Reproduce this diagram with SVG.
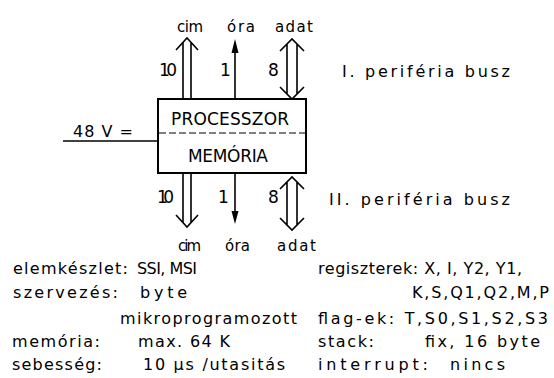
<svg xmlns="http://www.w3.org/2000/svg" width="554" height="378" viewBox="0 0 554 378">
<style>
text{font-family:"DejaVu Sans","Liberation Sans",sans-serif;fill:#000;font-size:16px}
.lbl{font-size:15px}
.num{font-size:17px}
.big{font-size:17px}
.ln{stroke:#000;stroke-width:1.6;fill:none}
.box{stroke:#000;stroke-width:2;fill:#fff}
.dash{stroke:#000;stroke-width:1;stroke-dasharray:7 3;fill:none}
</style>
<rect width="554" height="378" fill="#fff"/>
<g id="connectors">
<line class="ln" x1="63" y1="141" x2="158" y2="141"/>
<!-- top cim -->
<path class="ln" d="M183 99V42.5M191 99V42.5M176 50L187 38L198 50"/>
<!-- top ora -->
<path class="ln" d="M235 99V52"/>
<polygon points="235,39 231.5,53 238.5,53" fill="#000"/>
<!-- top adat -->
<path class="ln" d="M287 44V94M297 44V94M280 51L292 39L304 51M280 87L292 99L304 87"/>
<!-- bottom cim -->
<path class="ln" d="M183 173V222.5M191 173V222.5M176 215L187 227L198 215"/>
<!-- bottom ora -->
<path class="ln" d="M235 173V212"/>
<polygon points="235,224 231.5,211 238.5,211" fill="#000"/>
<!-- bottom adat -->
<path class="ln" d="M287 182V225M297 182V225M280 189L292 177L304 189M280 218L292 230L304 218"/>
</g>
<g id="node-cpu">
<rect class="box" x="158" y="99" width="148" height="74"/>
<line class="dash" x1="159" y1="133" x2="305" y2="133"/>
<text class="big" x="171" y="125" textLength="118" lengthAdjust="spacing">PROCESSZOR</text>
<text class="big" x="188" y="162" textLength="80" lengthAdjust="spacing">MEMÓRIA</text>
</g>
<g id="labels">
<text x="73" y="137" textLength="60" lengthAdjust="spacing">48 V =</text>
<text class="lbl" x="177" y="32" textLength="26" lengthAdjust="spacing">cim</text>
<text class="lbl" x="227" y="32" textLength="28" lengthAdjust="spacing">óra</text>
<text class="lbl" x="275" y="32" textLength="38" lengthAdjust="spacing">adat</text>
<text class="num" x="159" y="76" textLength="18" lengthAdjust="spacing">10</text>
<text class="num" x="220" y="76">1</text>
<text class="num" x="268" y="76">8</text>
<text x="342" y="77" textLength="168" lengthAdjust="spacing">I. periféria  busz</text>
<text class="num" x="157" y="203" textLength="17" lengthAdjust="spacing">10</text>
<text class="num" x="218" y="203">1</text>
<text class="num" x="268" y="203">8</text>
<text x="329" y="205" textLength="181" lengthAdjust="spacing">II. periféria  busz</text>
<text class="lbl" x="178" y="251" textLength="23" lengthAdjust="spacing">cim</text>
<text class="lbl" x="225" y="251" textLength="25" lengthAdjust="spacing">óra</text>
<text class="lbl" x="277" y="251" textLength="39" lengthAdjust="spacing">adat</text>
</g>
<g id="specs">
<text x="13" y="274" textLength="115" lengthAdjust="spacing">elemkészlet:</text>
<text x="137" y="274" textLength="60" lengthAdjust="spacing">SSI, MSI</text>
<text x="318" y="274" textLength="204" lengthAdjust="spacing">regiszterek: X, I, Y2, Y1,</text>
<text x="13" y="298" textLength="105" lengthAdjust="spacing">szervezés:</text>
<text x="140" y="298" textLength="47" lengthAdjust="spacing">byte</text>
<text x="412" y="298" textLength="137" lengthAdjust="spacing">K,S,Q1,Q2,M,P</text>
<text x="120" y="324" textLength="177" lengthAdjust="spacing">mikroprogramozott</text>
<text x="318" y="324" textLength="230" lengthAdjust="spacing">flag-ek: T,S0,S1,S2,S3</text>
<text x="12" y="347" textLength="88" lengthAdjust="spacing">memória:</text>
<text x="138" y="347" textLength="92" lengthAdjust="spacing">max. 64 K</text>
<text x="318" y="347" textLength="56" lengthAdjust="spacing">stack:</text>
<text x="425" y="347" textLength="115" lengthAdjust="spacing">fix, 16 byte</text>
<text x="12" y="370" textLength="90" lengthAdjust="spacing">sebesség:</text>
<text x="143" y="370" textLength="142" lengthAdjust="spacing">10 µs /utasitás</text>
<text x="318" y="370" textLength="110" lengthAdjust="spacing">interrupt:</text>
<text x="450" y="370" textLength="55" lengthAdjust="spacing">nincs</text>
</g>
</svg>
